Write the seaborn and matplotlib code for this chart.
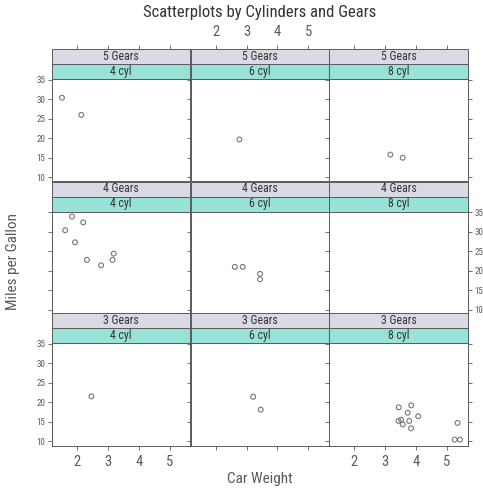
import matplotlib
matplotlib.use("Agg")
import matplotlib.pyplot as plt
from matplotlib import font_manager as fm
import numpy as np
import pandas as pd
import seaborn as sns
from matplotlib.patches import Rectangle

# Motor Trend cars: weight (1000 lbs), fuel economy, cylinders, forward gears
wt = [2.620, 2.875, 2.320, 3.215, 3.440, 3.460, 3.570, 3.190, 3.150, 3.440,
      3.440, 4.070, 3.730, 3.780, 5.250, 5.424, 5.345, 2.200, 1.615, 1.835,
      2.465, 3.520, 3.435, 3.840, 3.845, 1.935, 2.140, 1.513, 3.170, 2.770,
      3.570, 2.780]
mpg = [21.0, 21.0, 22.8, 21.4, 18.7, 18.1, 14.3, 24.4, 22.8, 19.2,
       17.8, 16.4, 17.3, 15.2, 10.4, 10.4, 14.7, 32.4, 30.4, 33.9,
       21.5, 15.5, 15.2, 13.3, 19.2, 27.3, 26.0, 30.4, 15.8, 19.7,
       15.0, 21.4]
cyl = [6, 6, 4, 6, 8, 6, 8, 4, 4, 6,
       6, 8, 8, 8, 8, 8, 8, 4, 4, 4,
       4, 8, 8, 8, 8, 4, 4, 4, 8, 6,
       8, 4]
gear = [4, 4, 4, 3, 3, 3, 3, 4, 4, 4,
        4, 3, 3, 3, 3, 3, 3, 4, 4, 4,
        3, 3, 3, 3, 3, 4, 5, 5, 5, 5,
        5, 4]

gear_order = [5, 4, 3]
cyl_order = [4, 6, 8]
x_ticks = [2, 3, 4, 5]
y_ticks = [10, 15, 20, 25, 30, 35]

df = pd.DataFrame({"wt": wt, "mpg": mpg, "cyl": cyl, "gear": gear})

sns.set_style("white")

# prefer a narrow sans face when one is installed
installed = {(f.name, f.stretch) for f in fm.fontManager.ttflist}
names = {n for n, _ in installed}
family, stretch = "DejaVu Sans", "normal"
for cand in ["Ubuntu Condensed", "Roboto Condensed", "Liberation Sans Narrow",
             "Open Sans Condensed", "Noto Sans Condensed", "Arial Narrow"]:
    if cand in names:
        family = cand
        break
else:
    for n, st in installed:
        if n in ("Roboto", "Open Sans", "Noto Sans", "DejaVu Sans", "Inter") \
                and st in ("condensed", "semi-condensed", "extra-condensed"):
            family, stretch = n, st
            break
plt.rcParams["font.family"] = [family, "DejaVu Sans"]
plt.rcParams["font.stretch"] = stretch

W, H = 483, 491
LINE = "#5a5a5a"
TXT = "#5a5a5a"
PT = "#777777"
GEAR_BG = "#d9dae4"
CYL_BG = "#98e2d8"

g = sns.FacetGrid(df, row="gear", col="cyl", row_order=gear_order,
                  col_order=cyl_order, sharex=True, sharey=True,
                  height=1.5, aspect=1.0)
fig = g.figure
fig.set_size_inches(W / 100, H / 100)
fig.set_dpi(100)

for (i, j, _), sub in g.facet_data():
    ax = g.axes[i, j]
    sns.scatterplot(data=sub, x="wt", y="mpg", ax=ax, marker="o", s=12,
                    color=PT, facecolor="none", edgecolor=PT, linewidth=0.8)

g.set_titles("")
g.set_axis_labels("", "")

col_left = [52, 190.6, 329.2]
col_w = 138.4
panel_top = [79, 211.5, 343]
panel_h = 102.5
strip_h = 15
sf = strip_h / panel_h

for i in range(3):
    for j in range(3):
        ax = g.axes[i, j]
        ax.set_position([col_left[j] / W, 1 - (panel_top[i] + panel_h) / H,
                         col_w / W, panel_h / H])
        ax.set_xlim(1.19, 5.67)
        ax.set_ylim(8.9, 35.2)
        ax.set_xticks(x_ticks)
        ax.set_yticks(y_ticks)
        ax.set_xlabel("")
        ax.set_ylabel("")
        for s in ax.spines.values():
            s.set_visible(True)
            s.set_color(LINE)
            s.set_linewidth(0.7)
        show_left = (j == 0 and i != 1)
        show_right = (j == 2 and i == 1)
        show_bottom = (i == 2 and j != 1)
        ax.tick_params(axis="y", which="both", left=True, right=True,
                       labelleft=show_left, labelright=show_right,
                       direction="out", length=3, width=0.6, color=LINE,
                       labelsize=6.5, labelcolor=TXT, pad=2)
        ax.tick_params(axis="x", which="both", top=False,
                       bottom=(i == 2), labelbottom=show_bottom,
                       direction="out", length=3, width=0.6, color=LINE,
                       labelsize=10.5, labelcolor=TXT, pad=4)
        for t in ax.yaxis.get_major_ticks():
            t.label1.set_visible(show_left)
            t.label2.set_visible(show_right)
        for t in ax.xaxis.get_major_ticks():
            t.label1.set_visible(show_bottom)
        # conditioning strips: cylinders below, gears on top
        ax.add_patch(Rectangle((0, 1), 1, sf, transform=ax.transAxes,
                               facecolor=CYL_BG, edgecolor=LINE, lw=0.7,
                               clip_on=False, zorder=3))
        ax.add_patch(Rectangle((0, 1 + sf), 1, sf, transform=ax.transAxes,
                               facecolor=GEAR_BG, edgecolor=LINE, lw=0.7,
                               clip_on=False, zorder=3))
        ax.text(0.5, 1 + sf / 2, f"{cyl_order[j]} cyl", transform=ax.transAxes,
                ha="center", va="center", fontsize=8.5, color="#333333",
                zorder=4)
        ax.text(0.5, 1 + 1.5 * sf, f"{gear_order[i]} Gears",
                transform=ax.transAxes, ha="center", va="center",
                fontsize=8.5, color="#333333", zorder=4)
        if i == 0:
            sec = ax.secondary_xaxis(1 + 2 * sf)
            sec.set_xticks(x_ticks)
            for s in sec.spines.values():
                s.set_visible(False)
            sec.tick_params(axis="x", top=True, labeltop=(j == 1),
                            direction="out", length=3, width=0.6, color=LINE,
                            labelsize=10.5, labelcolor=TXT, pad=4)

fig.text(0.5 * (52 + 467.6) / W, 1 - 12 / H,
         "Scatterplots by Cylinders and Gears", ha="center", va="center",
         fontsize=12, color="#333333")
fig.text(0.5 * (52 + 467.6) / W, 1 - 479 / H, "Car Weight", ha="center",
         va="center", fontsize=11, color=TXT)
fig.text(13 / W, 1 - 262 / H, "Miles per Gallon", ha="center", va="center",
         rotation=90, fontsize=11, color=TXT)

fig.savefig("out.png", dpi=100, facecolor="white")
